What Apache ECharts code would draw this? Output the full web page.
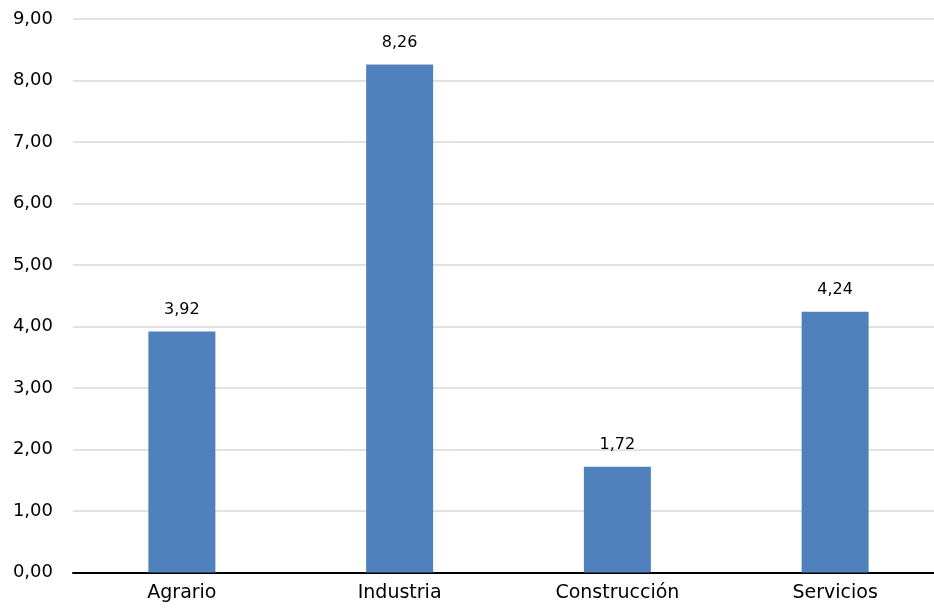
<!DOCTYPE html>
<html>
<head>
<meta charset="utf-8">
<script src="https://cdn.jsdelivr.net/npm/echarts@6/dist/echarts.min.js"></script>
<style>html,body{margin:0;padding:0;background:#fff}#c{width:934px;height:612px}</style>
</head>
<body>
<div id="c"></div>
<script>
const categories = ['Agrario', 'Industria', 'Construcción', 'Servicios'];
const values = [3.92, 8.26, 1.72, 4.24];
const yTicks = { min: 0, max: 9, interval: 1 };

const fmt = v => v.toFixed(2).replace('.', ',');
const chart = echarts.init(document.getElementById('c'));
chart.setOption({
  animation: false,
  textStyle: { fontFamily: 'DejaVu Sans' },
  grid: { left: 73, top: 19, right: -10, bottom: 39.5, containLabel: false, outerBoundsMode: 'none' },
  xAxis: {
    type: 'category',
    data: categories,
    axisLine: { lineStyle: { color: '#000', width: 2 } },
    axisTick: { show: false },
    axisLabel: { color: '#000', fontSize: 19, margin: 11, fontFamily: 'DejaVu Sans' }
  },
  yAxis: {
    type: 'value',
    min: yTicks.min, max: yTicks.max, interval: yTicks.interval,
    axisLine: { show: false },
    axisTick: { show: false },
    splitLine: { lineStyle: { color: '#D9D9D9', width: 1.5 } },
    axisLabel: { color: '#000', fontSize: 18, margin: 20, formatter: v => fmt(v), fontFamily: 'DejaVu Sans' }
  },
  series: [{
    type: 'bar',
    data: values,
    barWidth: 67,
    itemStyle: { color: '#4F81BD' },
    label: { show: true, position: 'top', distance: 14, color: '#000', fontSize: 16, formatter: p => fmt(p.value), fontFamily: 'DejaVu Sans' }
  }]
});
</script>
</body>
</html>
